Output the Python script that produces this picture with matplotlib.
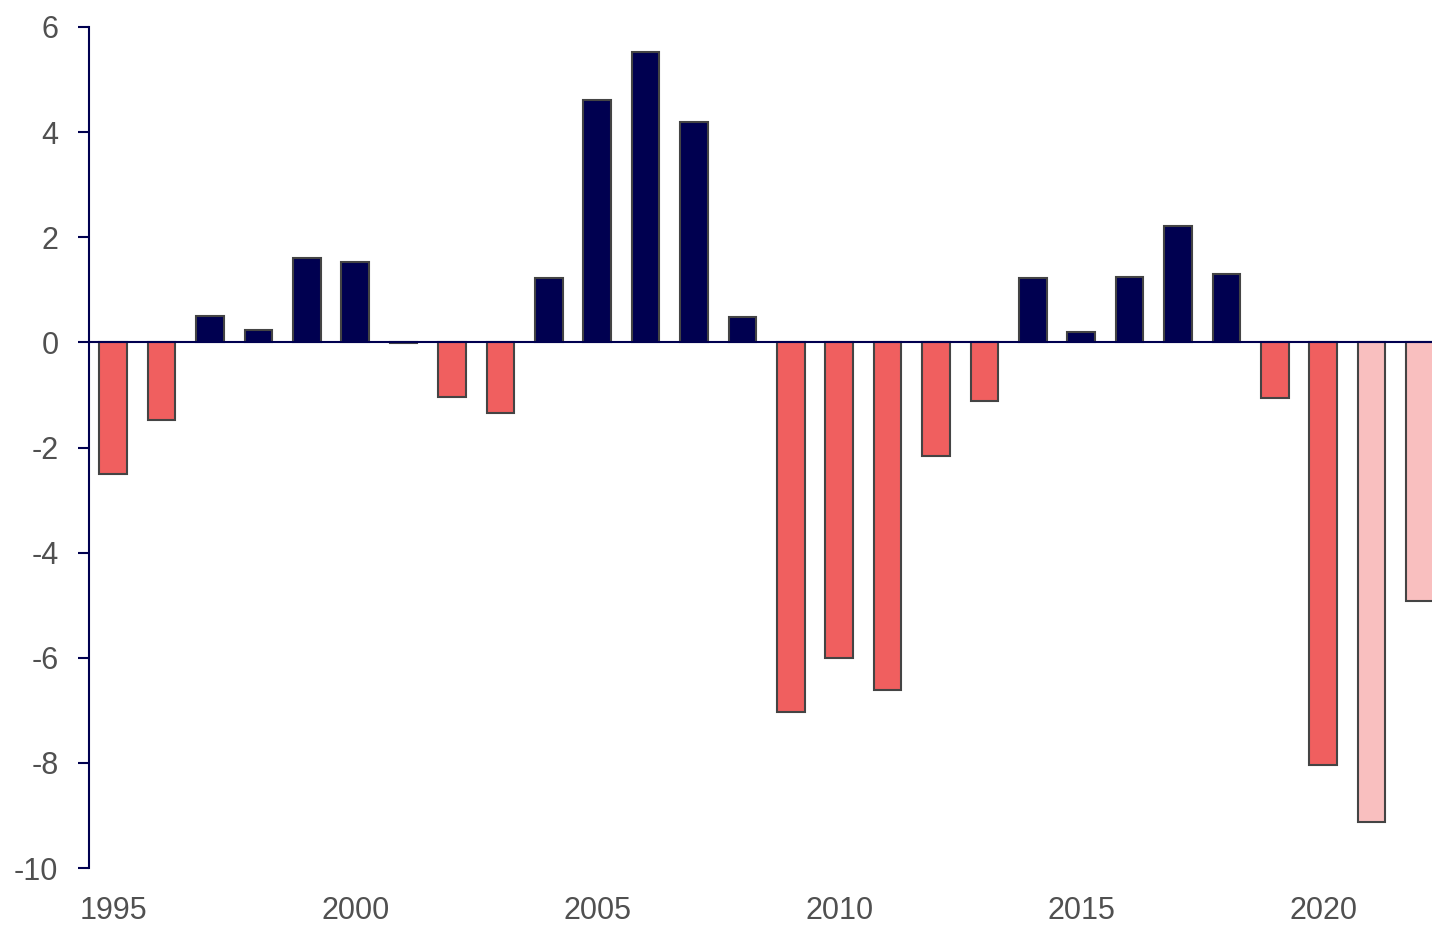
import matplotlib
matplotlib.use('Agg')
import matplotlib.pyplot as plt

years = list(range(1995, 2023))
values = [-2.51, -1.48, 0.51, 0.23, 1.60, 1.52, -0.02, -1.03, -1.35, 1.22,
          4.62, 5.53, 4.20, 0.48, -7.03, -6.01, -6.62, -2.17, -1.12, 1.22,
          0.19, 1.24, 2.22, 1.31, -1.06, -8.04, -9.13, -4.92]
forecast_years = [2021, 2022]
ytick_vals = list(range(-10, 7, 2))
xtick_vals = [1995, 2000, 2005, 2010, 2015, 2020]

navy = '#000050'
red = '#F05F5F'
pink = '#F9BFBF'

colors = []
for yr, v in zip(years, values):
    if yr in forecast_years:
        colors.append(pink)
    elif v >= 0:
        colors.append(navy)
    else:
        colors.append(red)

plt.rcParams['font.family'] = ['Liberation Sans', 'DejaVu Sans']
plt.rcParams['axes.unicode_minus'] = False

fig = plt.figure(figsize=(14.32, 9.27), dpi=100)
ax = fig.add_axes([89 / 1432, 59 / 927, 1 - 89 / 1432, 841 / 927])

ax.bar(years, values, width=0.57, color=colors, edgecolor='#444444', linewidth=1.5, zorder=2)
ax.axhline(0, color=navy, linewidth=1.5, zorder=3)

ax.set_ylim(-10, 6)
ax.set_yticks(ytick_vals)
ax.set_xlim(1994.5, 2022.25)
ax.set_xticks(xtick_vals)

for s in ['top', 'right', 'bottom']:
    ax.spines[s].set_visible(False)
ax.spines['left'].set_color(navy)
ax.spines['left'].set_linewidth(1.5)
ax.tick_params(axis='y', colors=navy, length=8, width=1.5, labelcolor='#505050', labelsize=22, pad=14)
ax.tick_params(axis='x', length=0, labelcolor='#505050', labelsize=22, pad=20)

fig.savefig('out.png', dpi=100)
